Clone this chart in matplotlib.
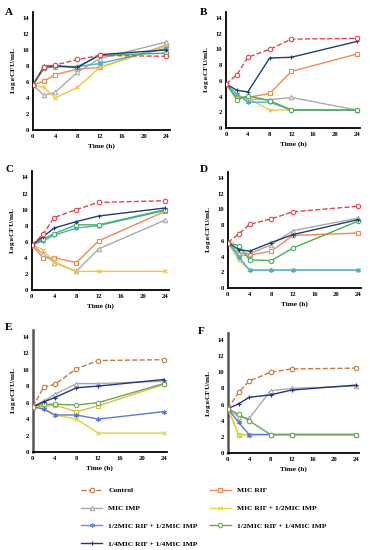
"""Time-kill curves, six strains (A-F), RIF / IMP combinations."""
import matplotlib.pyplot as plt
from matplotlib.lines import Line2D

plt.rcParams["font.family"] = ["Liberation Serif", "DejaVu Serif"]
plt.rcParams["font.weight"] = "bold"
plt.rcParams["mathtext.default"] = "regular"

TIME = [0, 2, 4, 8, 12, 24]

SERIES = [
    "Control",
    "MIC RIF",
    "MIC IMP",
    "MIC RIF + 1/2MIC IMP",
    "1/2MIC RIF + 1/2MIC IMP",
    "1/2MIC RIF + 1/4MIC IMP",
    "1/4MIC RIF + 1/4MIC IMP",
]

# log10 CFU/mL, one list per series in SERIES order
PANEL_A = [
    [5.6, 7.9, 8.1, 8.8, 9.3, 9.2],
    [5.6, 6.1, 6.9, 7.6, 7.8, 10.6],
    [5.6, 4.3, 4.7, 7.2, 8.9, 11.0],
    [5.6, 5.3, 4.0, 5.3, 7.8, 10.5],
    [5.6, 8.0, 8.0, 7.9, 8.3, 10.2],
    [5.6, 7.7, 7.9, 7.9, 9.3, 9.6],
    [5.6, 7.9, 8.0, 7.8, 9.4, 10.0],
]
PANEL_B = [
    [5.6, 6.8, 9.0, 10.0, 11.3, 11.4],
    [5.6, 4.0, 3.9, 4.4, 7.2, 9.4],
    [5.6, 4.0, 3.7, 3.6, 3.9, 2.3],
    [5.6, 4.2, 3.8, 2.3, 2.3, 2.3],
    [5.6, 4.3, 3.3, 3.3, 2.3, 2.3],
    [5.6, 3.6, 4.1, 3.5, 2.3, 2.3],
    [5.6, 4.8, 4.6, 8.9, 9.0, 11.0],
]
PANEL_C = [
    [5.6, 6.9, 9.0, 10.0, 10.9, 11.1],
    [5.6, 4.0, 4.0, 3.4, 6.1, 9.8],
    [5.6, 4.5, 3.4, 2.3, 5.1, 8.7],
    [5.6, 5.0, 3.5, 2.3, 2.3, 2.3],
    [5.6, 6.1, 6.8, 7.7, 8.0, 9.9],
    [5.6, 6.3, 7.0, 8.1, 8.1, 10.0],
    [5.6, 6.6, 7.7, 8.5, 9.2, 10.2],
]
PANEL_D = [
    [5.8, 6.9, 8.1, 8.8, 9.7, 10.4],
    [5.8, 4.2, 4.2, 4.7, 6.7, 7.0],
    [5.8, 4.5, 4.4, 5.5, 7.3, 8.9],
    [5.8, 3.6, 2.3, 2.3, 2.3, 2.3],
    [5.8, 4.0, 2.3, 2.3, 2.3, 2.3],
    [5.8, 5.4, 3.6, 3.5, 5.1, 8.5],
    [5.8, 4.9, 4.7, 5.8, 6.8, 8.7],
]
PANEL_E = [
    [5.5, 7.9, 8.2, 10.1, 11.1, 11.2],
    [5.5, 5.5, 5.7, 4.9, 5.6, 8.2],
    [5.5, 6.2, 7.0, 8.3, 8.3, 8.6],
    [5.5, 5.3, 4.5, 4.0, 2.3, 2.3],
    [5.5, 5.2, 4.5, 4.5, 4.0, 4.9],
    [5.5, 5.8, 5.8, 5.7, 6.0, 8.3],
    [5.5, 6.1, 6.6, 7.8, 8.0, 8.8],
]
PANEL_F = [
    [5.5, 7.5, 8.9, 10.0, 10.4, 10.5],
    [5.5, 2.3, 2.3, 2.3, 2.3, 2.3],
    [5.5, 4.5, 4.3, 7.7, 8.0, 8.3],
    [5.5, 2.3, 2.3, 2.3, 2.3, 2.3],
    [5.5, 3.8, 2.3, 2.3, 2.3, 2.3],
    [5.5, 4.8, 4.0, 2.3, 2.3, 2.3],
    [5.5, 6.1, 6.9, 7.2, 7.8, 8.4],
]

PANELS = [("A", PANEL_A), ("B", PANEL_B), ("C", PANEL_C),
          ("D", PANEL_D), ("E", PANEL_E), ("F", PANEL_F)]

COLORS = ["#e8414f", "#f28a4e", "#a9a9a9", "#f2c53d", "#3fb2d9", "#4caf50", "#1f3f74"]
COLORS_EF = ["#c8783c", "#d9c23a", "#a9a9a9", "#d8d83a", "#5a78d8", "#6aa84f", "#25328a"]
LEGEND_COLORS = ["#c8783c", "#f28a4e", "#a9a9a9", "#e8d83a", "#6a8ee0", "#6aa84f", "#25328a"]
MARKERS = ["o", "s", "^", "x", (6, 2, 0), "o", "+"]
STYLES = ["--", "-", "-", "-", "-", "-", "-"]

# axes rectangles in figure fractions [left, bottom, width, height]
RECTS = [
    [0.089, 0.764, 0.37, 0.215], [0.611, 0.767, 0.362, 0.212],
    [0.086, 0.473, 0.37, 0.216], [0.616, 0.476, 0.36, 0.212],
    [0.089, 0.178, 0.362, 0.222], [0.616, 0.176, 0.354, 0.218],
]
LETTER_POS = [(0.014, 0.985), (0.54, 0.985), (0.014, 0.70), (0.54, 0.70),
              (0.014, 0.413), (0.535, 0.405)]

fig = plt.figure(figsize=(3.7, 5.5), dpi=100)

for i, ((letter, data), rect) in enumerate(zip(PANELS, RECTS)):
    ax = fig.add_axes(rect)
    cols = COLORS_EF if letter in "EF" else COLORS
    for j, vals in enumerate(data):
        ax.plot(TIME, vals, linestyle=STYLES[j], color=cols[j], lw=1.0,
                marker=MARKERS[j], ms=3.2, mew=0.8,
                mfc="white" if MARKERS[j] in ("o", "s", "^") else cols[j],
                zorder=3 + (j == 0))
    ax.set_xlim(0, 24.6)
    ax.set_ylim(0, 14.8)
    ax.set_xticks(range(0, 25, 4))
    ax.set_yticks(range(0, 15, 2))
    ax.tick_params(length=0, labelsize=4.8, pad=3)
    for lab in ax.get_xticklabels() + ax.get_yticklabels():
        lab.set_fontweight("bold")
    for side in ("top", "right"):
        ax.spines[side].set_visible(False)
    ax.spines["bottom"].set_linewidth(1.3)
    ax.spines["left"].set_linewidth(1.3)
    if letter in "EF":
        ax.spines["left"].set_color("#555555")
        ax.spines["left"].set_linewidth(1.8)
    ax.set_xlabel("Time (h)", fontsize=5.2, fontweight="bold", labelpad=3)
    ax.set_ylabel(r"Log$_{10}$CFU/mL", fontsize=5.2, fontweight="bold", labelpad=3)
    fig.text(*LETTER_POS[i], letter, fontsize=8, fontweight="bold", va="top")

handles = []
for j, name in enumerate(SERIES):
    handles.append(Line2D([0], [0], linestyle=STYLES[j], color=LEGEND_COLORS[j], lw=1.0,
                          marker=MARKERS[j], ms=3.2, mew=0.8,
                          mfc="white" if MARKERS[j] in ("o", "s", "^") else LEGEND_COLORS[j],
                          label=name))
# legend reads row by row in the reference; matplotlib fills column by column
order = [0, 2, 4, 6, 1, 3, 5]
fig.legend(handles=[handles[k] for k in order], ncol=2, loc="upper center",
           bbox_to_anchor=(0.55, 0.12), frameon=False, columnspacing=1.6,
           handlelength=2.8, labelspacing=1.55, borderaxespad=0,
           prop={"weight": "bold", "size": 5.4})

fig.savefig("out.png", dpi=100)
